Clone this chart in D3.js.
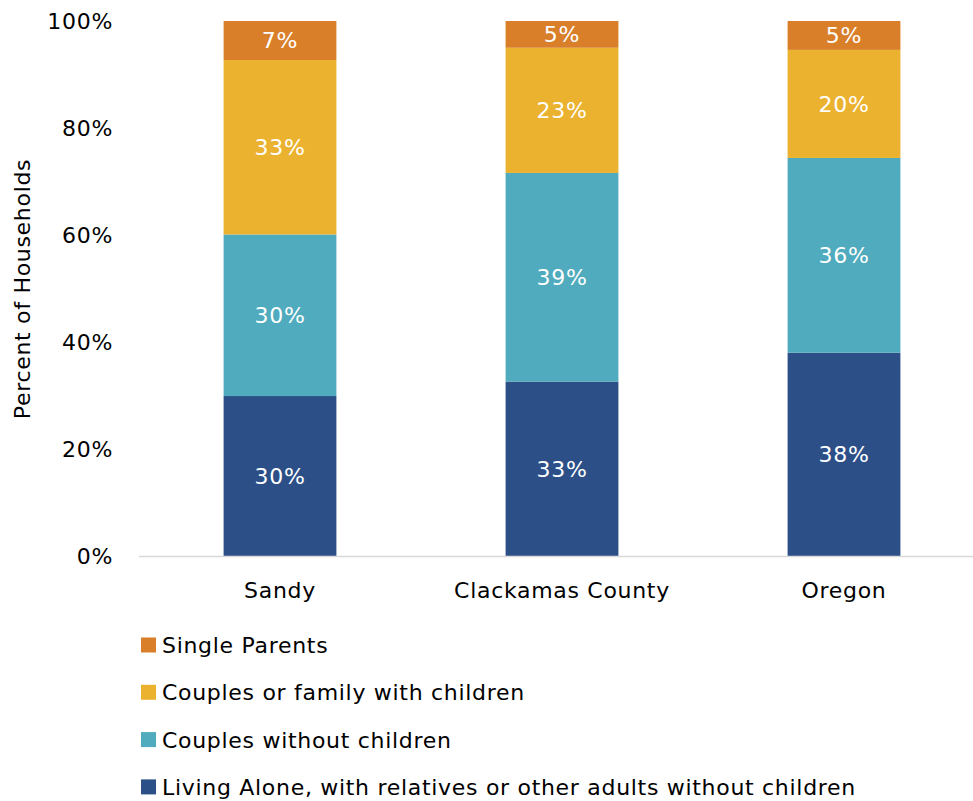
<!DOCTYPE html>
<html>
<head>
<meta charset="utf-8">
<script src="https://cdn.jsdelivr.net/npm/d3@7"></script>
<style>
  html, body { margin: 0; padding: 0; background: #fff; }
  svg { display: block; font-family: "DejaVu Sans", sans-serif; letter-spacing: 0.7px; }
</style>
</head>
<body>
<svg id="chart" width="973" height="801"></svg>
<script>
// Household composition by geography (share of households)
const categories = ["Sandy", "Clackamas County", "Oregon"];
const seriesNames = [
  "Living Alone, with relatives or other adults without children",
  "Couples without children",
  "Couples or family with children",
  "Single Parents"
];
const livingAlone      = [0.299, 0.326, 0.380];
const couplesNoKids    = [0.302, 0.390, 0.364];
const couplesWithKids  = [0.326, 0.234, 0.202];
const singleParents    = [0.073, 0.050, 0.054];
const yTicks = [0, 0.2, 0.4, 0.6, 0.8, 1.0];
const colors = ["#2C4F88", "#4FABBD", "#EBB22F", "#D97F2A"];

const FONT = 22;

const seriesValues = [livingAlone, couplesNoKids, couplesWithKids, singleParents];
const rows = categories.map((c, i) => {
  const r = { category: c };
  seriesNames.forEach((s, k) => { r[s] = seriesValues[k][i]; });
  return r;
});

const svg = d3.select("#chart");
const x = d3.scaleBand().domain(categories).range([139, 985])
  .paddingInner(0.6).paddingOuter(0.3);
const y = d3.scaleLinear().domain([0, 1]).range([556, 21]);
const color = d3.scaleOrdinal().domain(seriesNames).range(colors);
const fmt = d3.format(".0%");

const stacked = d3.stack().keys(seriesNames)(rows);

// stacked bars
const layers = svg.append("g").selectAll("g").data(stacked).join("g")
  .attr("fill", d => color(d.key));
layers.selectAll("rect").data(d => d).join("rect")
  .attr("x", d => x(d.data.category))
  .attr("width", x.bandwidth())
  .attr("y", d => y(d[1]))
  .attr("height", d => y(d[0]) - y(d[1]));

// value labels in segments
layers.selectAll("text").data(d => d.map(v => ({ v, key: d.key }))).join("text")
  .attr("x", d => x(d.v.data.category) + x.bandwidth() / 2)
  .attr("y", d => (y(d.v[0]) + y(d.v[1])) / 2)
  .attr("dy", "0.36em")
  .attr("text-anchor", "middle")
  .attr("fill", "#fff")
  .attr("font-size", FONT)
  .text(d => fmt(d.v.data[d.key]));

// baseline
svg.append("line")
  .attr("x1", 139).attr("x2", 973)
  .attr("y1", y(0) + 0.5).attr("y2", y(0) + 0.5)
  .attr("stroke", "#d9d9d9").attr("stroke-width", 1.5);

// y axis
const yAxis = svg.append("g").attr("transform", "translate(113,0)")
  .call(d3.axisLeft(y).tickValues(yTicks).tickFormat(fmt).tickSize(0).tickPadding(0));
yAxis.select(".domain").remove();
yAxis.selectAll("text").attr("font-size", FONT).attr("fill", "#000")
  .attr("font-family", "DejaVu Sans, sans-serif");

// x axis
const xAxis = svg.append("g").attr("transform", "translate(0,590)")
  .call(d3.axisBottom(x).tickSize(0).tickPadding(0));
xAxis.select(".domain").remove();
xAxis.selectAll("text").attr("font-size", FONT).attr("fill", "#000")
  .attr("dy", "0.36em").attr("font-family", "DejaVu Sans, sans-serif");

// y axis title
svg.append("text")
  .attr("transform", "translate(22,289) rotate(-90)")
  .attr("text-anchor", "middle")
  .attr("dy", "0.36em")
  .attr("font-size", FONT)
  .attr("fill", "#000")
  .text("Percent of Households");

// legend (top series first)
const legendOrder = seriesNames.slice().reverse();
const legend = svg.append("g").selectAll("g").data(legendOrder).join("g")
  .attr("transform", (d, i) => `translate(141,${645 + i * 47.3})`);
legend.append("rect")
  .attr("x", 0).attr("y", -7.5).attr("width", 15).attr("height", 15)
  .attr("fill", d => color(d));
legend.append("text")
  .attr("x", 21).attr("dy", "0.36em")
  .attr("font-size", FONT).attr("fill", "#000")
  .text(d => d);
</script>
</body>
</html>
